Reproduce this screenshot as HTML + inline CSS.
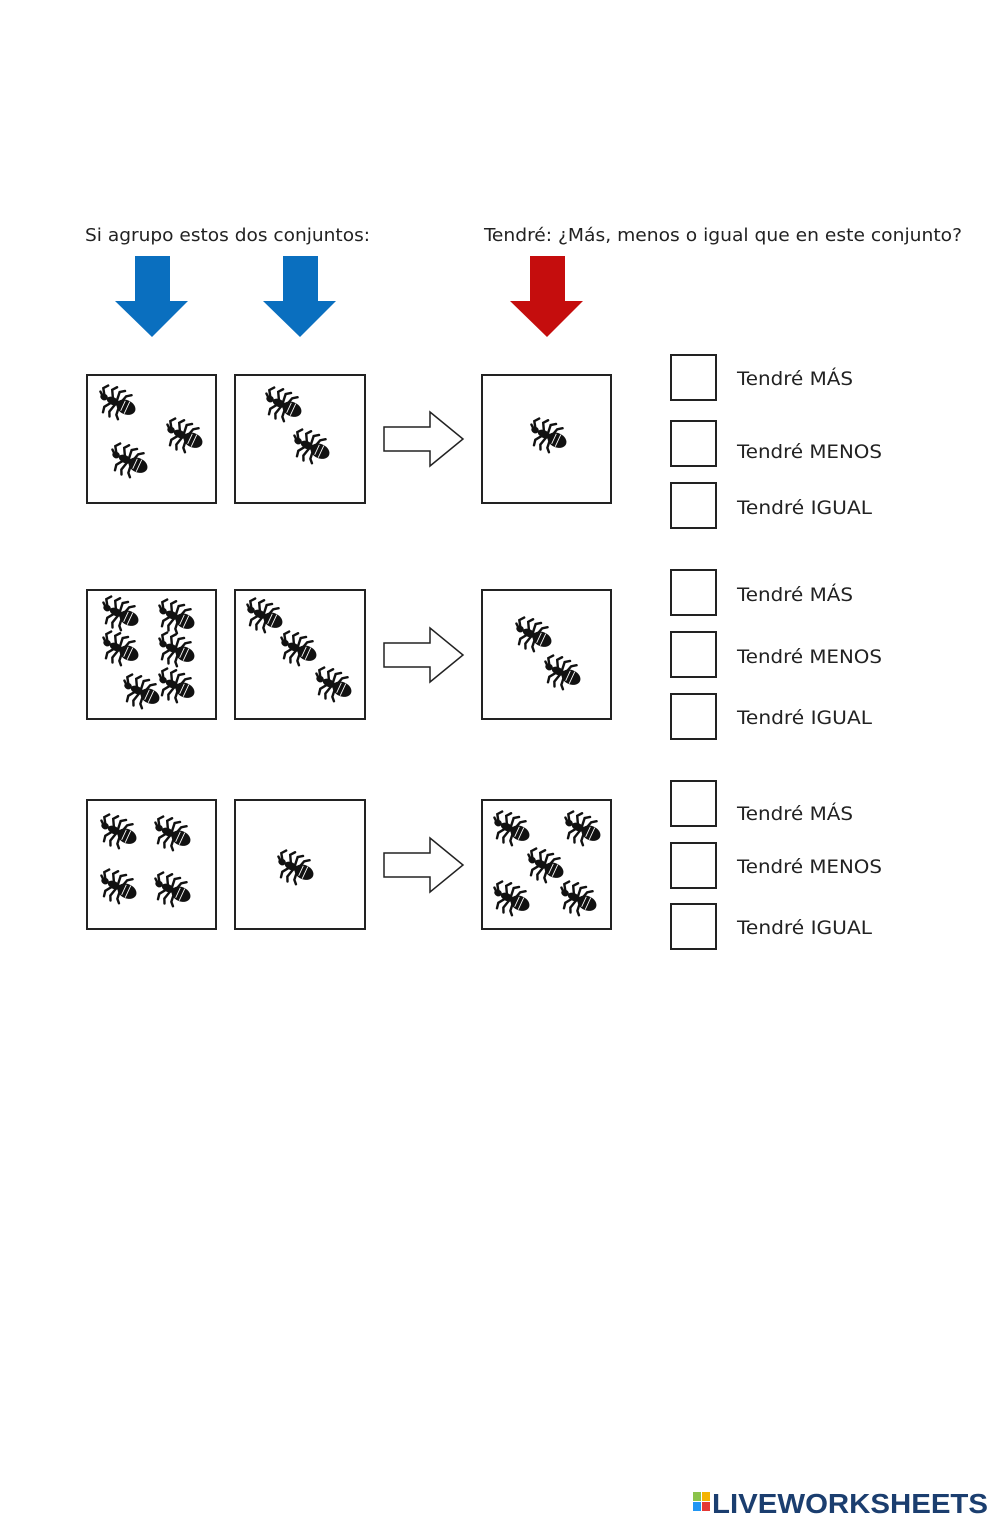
<!DOCTYPE html>
<html><head><meta charset="utf-8"><style>html,body{margin:0;padding:0;background:#fff}svg{display:block}</style></head>
<body>
<svg width="1000" height="1527" viewBox="0 0 1000 1527" xmlns="http://www.w3.org/2000/svg">
<defs>
<g id="ant">
 <g transform="rotate(25) scale(1.1)">
  <g stroke="#111" stroke-width="2.2" fill="none" stroke-linecap="round">
   <path d="M-5,-2 L-9,-9 L-6,-13"/><path d="M-1,-2 L-2,-10 L2,-13"/><path d="M3,-2 L5,-9 L9,-12"/>
   <path d="M-5,2 L-9,8 L-8,13"/><path d="M-1,2 L-3,10 L-1,14"/><path d="M3,2 L4,10 L7,13"/>
   <path d="M-13,-1 L-17,-7 L-14,-11"/><path d="M-13,1 L-18,-3"/>
  </g>
  <ellipse cx="-13" cy="0" rx="3.5" ry="3" fill="#111"/>
  <ellipse cx="-4" cy="0" rx="6" ry="3.5" fill="#111"/>
  <ellipse cx="9" cy="0" rx="9" ry="6.5" fill="#111"/>
  <path d="M6,-5 L6,5 M10,-6 L10,6" stroke="#fff" stroke-width="0.8"/>
 </g>
</g>
<g id="hollow"><polygon points="384,427 430,427 430,412 463,439 430,466 430,451 384,451" fill="#fff" stroke="#222" stroke-width="1.5"/></g>
</defs>

<g font-family="'DejaVu Sans Condensed','Liberation Sans',sans-serif" font-size="18" fill="#222">
<text x="85" y="241" textLength="285" lengthAdjust="spacingAndGlyphs">Si agrupo estos dos conjuntos:</text>
<text x="484" y="241" textLength="478" lengthAdjust="spacingAndGlyphs">Tendré: ¿Más, menos o igual que en este conjunto?</text>
</g>

<polygon points="135,256 170,256 170,301 188,301 152,337 115,301 135,301" fill="#0a6fbf"/>
<polygon points="283,256 318,256 318,301 336,301 300,337 263,301 283,301" fill="#0a6fbf"/>
<polygon points="530,256 565,256 565,301 583,301 547,337 510,301 530,301" fill="#c50d0d"/>

<g fill="#fff" stroke="#222" stroke-width="2">
<rect x="87" y="375" width="129" height="128"/><rect x="235" y="375" width="130" height="128"/><rect x="482" y="375" width="129" height="128"/>
<rect x="87" y="590" width="129" height="129"/><rect x="235" y="590" width="130" height="129"/><rect x="482" y="590" width="129" height="129"/>
<rect x="87" y="800" width="129" height="129"/><rect x="235" y="800" width="130" height="129"/><rect x="482" y="800" width="129" height="129"/>
</g>
<use href="#hollow"/>
<use href="#hollow" transform="translate(0,216)"/>
<use href="#hollow" transform="translate(0,426)"/>

<g>
<use href="#ant" x="117" y="403"/><use href="#ant" x="184" y="436"/><use href="#ant" x="129" y="461"/>
<use href="#ant" x="283" y="405"/><use href="#ant" x="311" y="447"/>
<use href="#ant" x="548" y="436"/>
<use href="#ant" x="120" y="614"/><use href="#ant" x="176" y="617"/><use href="#ant" x="120" y="649"/><use href="#ant" x="176" y="650"/><use href="#ant" x="141" y="692"/><use href="#ant" x="176" y="686"/>
<use href="#ant" x="264" y="616"/><use href="#ant" x="298" y="649"/><use href="#ant" x="333" y="685"/>
<use href="#ant" x="533" y="635"/><use href="#ant" x="562" y="673"/>
<use href="#ant" x="118" y="832"/><use href="#ant" x="172" y="834"/><use href="#ant" x="118" y="887"/><use href="#ant" x="172" y="890"/>
<use href="#ant" x="295" y="868"/>
<use href="#ant" x="511" y="829"/><use href="#ant" x="582" y="829"/><use href="#ant" x="545" y="866"/><use href="#ant" x="511" y="899"/><use href="#ant" x="578" y="899"/>
</g>

<g fill="#fff" stroke="#222" stroke-width="2">
<rect x="671" y="355" width="45" height="45"/><rect x="671" y="421" width="45" height="45"/><rect x="671" y="483" width="45" height="45"/>
<rect x="671" y="570" width="45" height="45"/><rect x="671" y="632" width="45" height="45"/><rect x="671" y="694" width="45" height="45"/>
<rect x="671" y="781" width="45" height="45"/><rect x="671" y="843" width="45" height="45"/><rect x="671" y="904" width="45" height="45"/>
</g>
<g font-family="'DejaVu Sans','Liberation Sans',sans-serif" font-size="19" fill="#222">
<text x="737" y="385" textLength="116" lengthAdjust="spacingAndGlyphs">Tendré MÁS</text><text x="737" y="458" textLength="145" lengthAdjust="spacingAndGlyphs">Tendré MENOS</text><text x="737" y="514" textLength="135" lengthAdjust="spacingAndGlyphs">Tendré IGUAL</text>
<text x="737" y="601" textLength="116" lengthAdjust="spacingAndGlyphs">Tendré MÁS</text><text x="737" y="663" textLength="145" lengthAdjust="spacingAndGlyphs">Tendré MENOS</text><text x="737" y="724" textLength="135" lengthAdjust="spacingAndGlyphs">Tendré IGUAL</text>
<text x="737" y="820" textLength="116" lengthAdjust="spacingAndGlyphs">Tendré MÁS</text><text x="737" y="873" textLength="145" lengthAdjust="spacingAndGlyphs">Tendré MENOS</text><text x="737" y="934" textLength="135" lengthAdjust="spacingAndGlyphs">Tendré IGUAL</text>
</g>

<g font-family="'Liberation Sans',sans-serif" font-weight="bold">
<rect x="693" y="1492" width="8" height="9" fill="#8bc34a"/><rect x="702" y="1492" width="8" height="9" fill="#f4b400"/>
<rect x="693" y="1502" width="8" height="9" fill="#2196f3"/><rect x="702" y="1502" width="8" height="9" fill="#e53935"/>
<text x="712" y="1513" font-size="28" fill="#1b3e6f" textLength="276" lengthAdjust="spacingAndGlyphs">LIVEWORKSHEETS</text>
</g>
</svg>
</body></html>
